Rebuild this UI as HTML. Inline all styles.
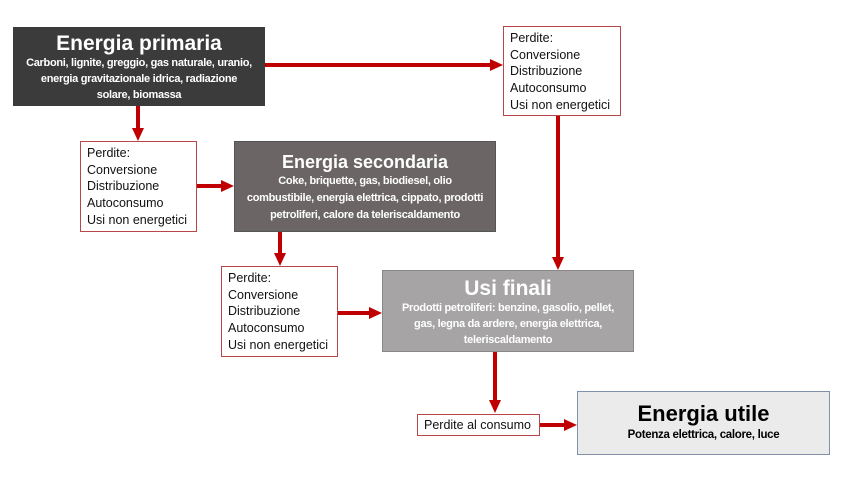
<!DOCTYPE html>
<html><head><meta charset="utf-8"><style>
body{margin:0;width:850px;height:478px;background:#fff;position:relative;overflow:hidden;font-family:"Liberation Sans",sans-serif}
.b{position:absolute;box-sizing:border-box;text-align:center;color:#fff}
.t{font-weight:bold;line-height:1.1}
.s{font-weight:bold;font-size:11px;line-height:16px;letter-spacing:-0.3px;white-space:nowrap}
.p{position:absolute;box-sizing:border-box;border:1px solid #b8474a;background:#fff;font-size:12.5px;line-height:16.7px;padding:3px 0 0 6px;color:#111;white-space:nowrap}
svg{position:absolute;left:0;top:0}
</style></head><body>
<svg width="850" height="478">
<g stroke="#c00000" stroke-width="4" fill="none">
<line x1="265" y1="65" x2="492" y2="65"/>
<line x1="138" y1="106" x2="138" y2="130"/>
<line x1="197" y1="186" x2="223" y2="186"/>
<line x1="280" y1="232" x2="280" y2="255"/>
<line x1="338" y1="313" x2="371" y2="313"/>
<line x1="558" y1="116" x2="558" y2="259"/>
<line x1="495" y1="352" x2="495" y2="402"/>
<line x1="540" y1="425" x2="566" y2="425"/>
</g>
<g fill="#c00000">
<polygon points="490,59 503,65 490,71"/>
<polygon points="132,128 138,141 144,128"/>
<polygon points="221,180 234,186 221,192"/>
<polygon points="274,253 280,266 286,253"/>
<polygon points="369,307 382,313 369,319"/>
<polygon points="552,257 558,270 564,257"/>
<polygon points="489,400 495,413 501,400"/>
<polygon points="564,419 577,425 564,431"/>
</g>
</svg>
<div class="b" style="left:13px;top:27px;width:252px;height:79px;background:#3b3b3b;padding-top:5px">
<div class="t" style="font-size:21px">Energia primaria</div>
<div class="s">Carboni, lignite, greggio, gas naturale, uranio,<br>energia gravitazionale idrica, radiazione<br>solare, biomassa</div></div>
<div class="b" style="left:234px;top:141px;width:262px;height:91px;background:#6b6565;border:1px solid #555;padding-top:11px">
<div class="t" style="font-size:18px">Energia secondaria</div>
<div class="s" style="line-height:17px">Coke, briquette, gas, biodiesel, olio<br>combustibile, energia elettrica, cippato, prodotti<br>petroliferi, calore da teleriscaldamento</div></div>
<div class="b" style="left:382px;top:270px;width:252px;height:82px;background:#a6a4a4;border:1px solid #888;padding-top:6px">
<div class="t" style="font-size:21px">Usi finali</div>
<div class="s">Prodotti petroliferi: benzine, gasolio, pellet,<br>gas, legna da ardere, energia elettrica,<br>teleriscaldamento</div></div>
<div class="b" style="left:577px;top:391px;width:253px;height:64px;background:#ebebeb;border:1px solid #8090aa;color:#000;padding-top:10px">
<div class="t" style="font-size:22px">Energia utile</div>
<div class="s" style="line-height:18px;font-size:11.5px">Potenza elettrica, calore, luce</div></div>
<div class="p" style="left:503px;top:26px;width:118px;height:90px">Perdite:<br>Conversione<br>Distribuzione<br>Autoconsumo<br>Usi non energetici</div>
<div class="p" style="left:80px;top:141px;width:117px;height:91px">Perdite:<br>Conversione<br>Distribuzione<br>Autoconsumo<br>Usi non energetici</div>
<div class="p" style="left:221px;top:266px;width:117px;height:91px">Perdite:<br>Conversione<br>Distribuzione<br>Autoconsumo<br>Usi non energetici</div>
<div class="p" style="left:417px;top:414px;width:123px;height:22px;padding-top:2px">Perdite al consumo</div>
</body></html>
